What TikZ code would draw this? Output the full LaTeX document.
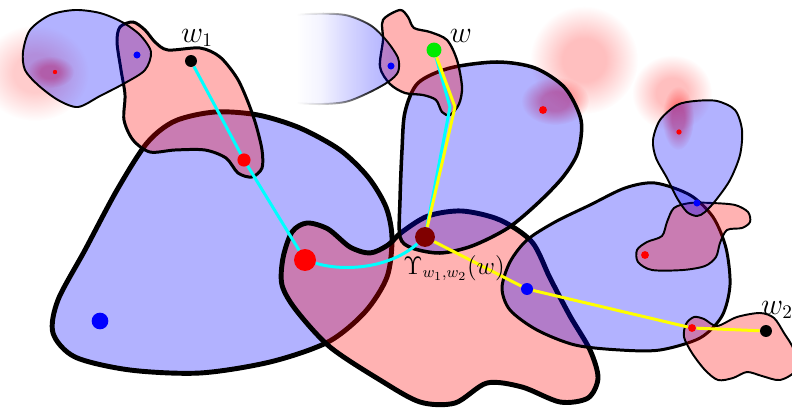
\documentclass[tikz,border=0pt]{standalone}
\usepackage{amsmath, amssymb}
\usepackage{tikz}
\usetikzlibrary{fadings}

\definecolor{walkcyan}{RGB}{0,255,255}
\definecolor{walkyellow}{RGB}{255,255,0}
\definecolor{dotgreen}{RGB}{0,235,0}
\pgfdeclareradialshading{softglowshade}{\pgfpointorigin}{color(0bp)=(pgftransparent!0); color(10bp)=(pgftransparent!0); color(25bp)=(pgftransparent!100); color(50bp)=(pgftransparent!100)}
\pgfdeclarefading{softglow}{\pgfuseshading{softglowshade}}
\pgfdeclarehorizontalshading{fadeleftshade}{100bp}{color(0bp)=(pgftransparent!100); color(45bp)=(pgftransparent!100); color(52bp)=(pgftransparent!85); color(58bp)=(pgftransparent!55); color(66bp)=(pgftransparent!20); color(72bp)=(pgftransparent!0); color(100bp)=(pgftransparent!0)}
\pgfdeclarefading{fade left}{\pgfuseshading{fadeleftshade}}

\begin{document}
\begin{tikzpicture}[x=0.02cm, y=-0.02cm,
  blueblob/.style={fill=blue, fill opacity=0.3, draw=black, line width=#1},
  pinkblob/.style={fill=red, fill opacity=0.3, draw=black, line width=#1},
  halo/.style={fill=red, fill opacity=#1, path fading=softglow},
  dot/.style={circle, fill=#1, inner sep=0pt},
  walk/.style={line width=1.7pt, line join=round, draw=#1},
  wlabel/.style={font=\fontsize{16}{18}\selectfont}]
  \useasboundingbox (0,0) rectangle (792,409);

  % faded red spots
  \fill[halo=0.2] (35,73) ellipse (54 and 48);
  \fill[halo=0.35] (50,72) ellipse (24 and 16);
  \fill[halo=0.25] (584,60) ellipse (54 and 54);
  \fill[halo=0.4] (555,101) ellipse (34 and 24);
  \fill[halo=0.25] (672,93) ellipse (40 and 38);
  \fill[halo=0.4] (678,118) ellipse (16 and 32);

  % big blob on the left
  \draw[blueblob=2.8pt] plot[smooth cycle] coordinates {(147,143) (175,121) (215,112) (258,115) (300,128) (340,150) (368,177) (386,207) (392,238) (387,277) (365,312) (328,342) (270,362) (200,373) (130,370) (75,357) (53,333) (58,300) (85,250) (117,190)};
  % blob of w_1
  \draw[pinkblob=1.7pt] plot[smooth cycle] coordinates {(120,27) (133,22) (145,30) (155,42) (168,50) (200,48) (220,57) (237,78) (248,102) (256,125) (262,150) (262,168) (252,177) (238,173) (226,158) (205,150) (175,150) (150,152) (133,140) (124,120) (125,95) (121,70) (117,42)};
  \draw[blueblob=1.1pt] plot[smooth cycle] coordinates {(23,52) (30,30) (50,15) (75,10) (100,13) (122,22) (140,35) (151,52) (145,70) (125,83) (100,96) (78,107) (58,100) (38,85) (25,70)};

  % middle
  \draw[pinkblob=2.8pt] plot[smooth cycle] coordinates {(283,258) (292,232) (307,223) (328,229) (350,247) (370,253) (388,245) (402,232) (428,216) (462,211) (500,220) (532,242) (550,278) (570,316) (590,350) (598,378) (588,398) (560,402) (522,387) (487,383) (455,403) (420,402) (380,380) (330,347) (296,310) (282,285)};
  \draw[blueblob=2pt] plot[smooth cycle] coordinates {(400,237) (400,200) (402,150) (405,112) (418,83) (450,68) (497,62) (535,68) (565,88) (581,120) (578,152) (563,177) (538,203) (508,228) (472,246) (440,253) (412,248)};
  % blob of w
  \draw[pinkblob=1.3pt] plot[smooth cycle] coordinates {(400,10) (408,17) (414,28) (430,32) (447,40) (457,60) (462,87) (459,104) (450,115) (442,112) (436,100) (423,95) (405,93) (390,84) (380,67) (383,40) (383,20)};
  \draw[blueblob=1.1pt, path fading=fade left] plot[smooth cycle] coordinates {(232,30) (270,18) (310,14) (345,15) (370,25) (386,40) (398,58) (398,72) (388,82) (368,93) (345,102) (315,104) (280,100) (240,80)};

  % right
  \draw[blueblob=1.7pt] plot[smooth cycle] coordinates {(527,240) (555,222) (590,205) (625,188) (655,183) (690,195) (713,217) (726,248) (730,285) (722,316) (700,338) (660,350) (620,350) (575,345) (537,330) (510,310) (502,288) (510,262)};
  \draw[pinkblob=1.1pt] plot[smooth cycle] coordinates {(638,262) (637,250) (647,242) (662,236) (667,222) (674,208) (690,203) (712,203) (735,205) (748,212) (750,222) (742,228) (727,230) (720,243) (716,257) (705,266) (683,270) (652,270)};
  \draw[blueblob=1.1pt] plot[smooth cycle] coordinates {(653,140) (660,120) (677,105) (695,101) (717,101) (735,110) (742,130) (740,155) (730,180) (716,200) (705,212) (697,216) (687,212) (677,198) (667,178) (656,158)};
  % blob of w_2
  \draw[pinkblob=1.1pt] plot[smooth cycle] coordinates {(684,337) (686,324) (694,317) (704,319) (717,326) (737,317) (760,313) (774,318) (784,333) (794,350) (796,370) (780,380) (762,376) (747,372) (733,378) (718,380) (705,370) (692,353)};

  % vertices
  \node[dot=black, minimum size=6.8pt] (w1) at (191,61) {};
  \node[dot=dotgreen, minimum size=8.5pt] (w) at (434,50) {};
  \node[dot=black, minimum size=6.8pt] (w2) at (766,331) {};
  \node[dot=red!50!black, minimum size=11.3pt] (ups) at (425,237) {};
  \node[dot=red, minimum size=7.5pt] (r1) at (244,160) {};
  \node[dot=red, minimum size=12.5pt] (r2) at (305,260) {};
  \node[dot=red, minimum size=2.5pt] (r3) at (55,72) {};
  \node[dot=red, minimum size=4.5pt] (r4) at (543,110) {};
  \node[dot=red, minimum size=4.5pt] (r5) at (645,255) {};
  \node[dot=red, minimum size=3pt] (r6) at (679,132) {};
  \node[dot=red, minimum size=4.5pt] (r7) at (692,328) {};
  \node[dot=blue, minimum size=9.5pt] (b1) at (100,321) {};
  \node[dot=blue, minimum size=4pt] (b2) at (137,55) {};
  \node[dot=blue, minimum size=4pt] (b3) at (391,66) {};
  \node[dot=blue, minimum size=4pt] (b4) at (697,203) {};
  \node[dot=blue, minimum size=6.8pt] (b5) at (527,289) {};

  % the two walks
  \coordinate (bendc) at (450,107);
  \coordinate (bendy) at (455,107);
  \draw[walk=walkcyan] (w1) -- (r1) -- (r2) .. controls (345,272) and (390,268) .. (ups) -- (bendc) -- (w);
  \draw[walk=walkyellow] (w) -- (bendy) -- (ups) -- (b5) -- (r7) -- (w2);

  \node[wlabel] (lw1) at (197,38) {$w_1$};
  \node[wlabel] (lw) at (461,36) {$w$};
  \node[wlabel] (lw2) at (777,310) {$w_2$};
  \node[font=\fontsize{13.5}{15}\selectfont] (lups) at (454,268) {$\Upsilon_{w_1,w_2}(w)$};
\end{tikzpicture}
\end{document}
